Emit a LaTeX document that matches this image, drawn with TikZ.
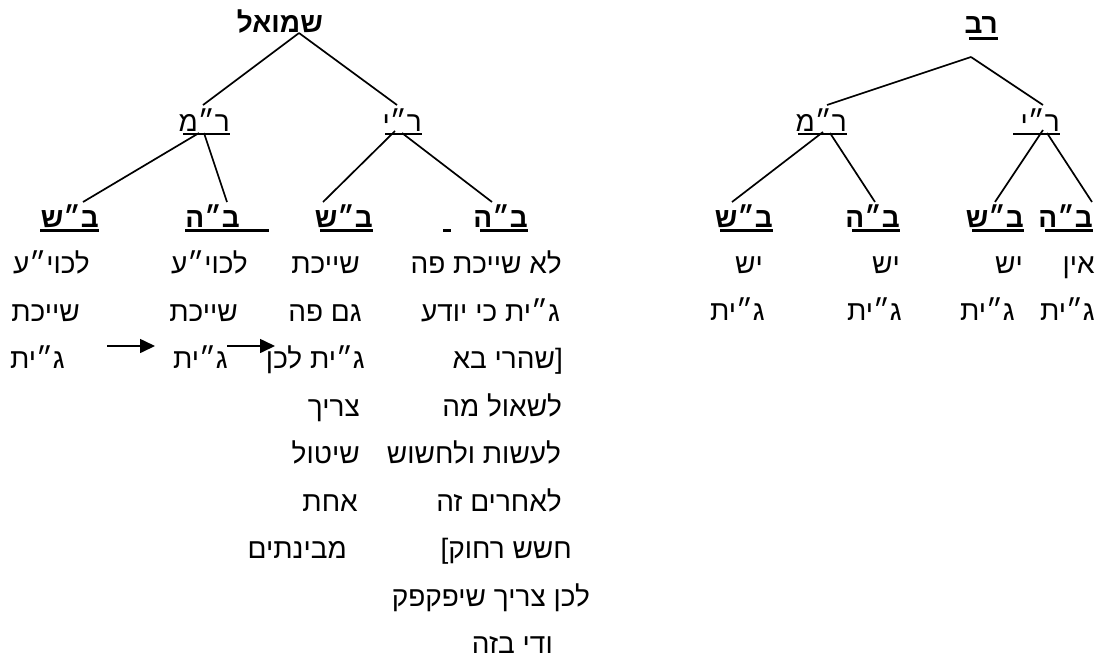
\documentclass[tikz,border=0pt]{standalone}
\usepackage{fontspec}
\newfontfamily\heb[Script=Hebrew]{Liberation Sans}
\TeXXeTstate=1
\usetikzlibrary{arrows.meta}
\newcommand\HT[1]{\beginR #1\endR}
\begin{document}
\begin{tikzpicture}[x=1pt,y=-1pt,
  txt/.style={font=\heb\fontsize{28}{32}\selectfont, inner sep=0pt, anchor=base east},
  lbl/.style={txt, font=\heb\bfseries\fontsize{28}{32}\selectfont},
  edge/.style={line width=1.7pt},
  ul/.style={line width=2pt},
  bul/.style={line width=3pt},
  arr/.style={line width=1.6pt, -{Triangle[length=15pt,width=14pt]}}]
\useasboundingbox (0,0) rectangle (1102,662);

% ===== Left tree (Shmuel) =====
\node[lbl] (shm) at (323,32) {\HT{שמואל}};
\node[txt] (Lrm) at (230,131) {\HT{ר״מ}};
\node[txt] (Lry) at (422,131) {\HT{ר״י}};
\draw[ul] (183,134) -- (230,134);
\draw[ul] (385,134) -- (422,134);

\node[lbl] (Lbs1) at (99,227) {\HT{ב״ש}};
\node[lbl] (Lbh1) at (240,227) {\HT{ב״ה}};
\node[lbl] (Lbs2) at (373,227) {\HT{ב״ש}};
\node[lbl] (Lbh2) at (528,227) {\HT{ב״ה}};
\draw[bul] (40,230) -- (99,230);
\draw[bul] (185,230) -- (269,230);
\draw[bul] (320,230) -- (373,230);
\draw[bul] (443,230) -- (451,230);
\draw[bul] (480,230) -- (528,230);

\coordinate (shmB) at (299,33);
\coordinate (LrmT) at (203,105);
\coordinate (LryT) at (397,105);
\coordinate (LrmB1) at (199,133);
\coordinate (LrmB2) at (204,133);
\coordinate (LryB1) at (395,131);
\coordinate (LryB2) at (402,133);
\coordinate (Lbs1T) at (83,202);
\coordinate (Lbh1T) at (227,202);
\coordinate (Lbs2T) at (323,202);
\coordinate (Lbh2T) at (492,202);
\draw[edge] (shmB) -- (LrmT);
\draw[edge] (shmB) -- (LryT);
\draw[edge] (LrmB1) -- (Lbs1T);
\draw[edge] (LrmB2) -- (Lbh1T);
\draw[edge] (LryB1) -- (Lbs2T);
\draw[edge] (LryB2) -- (Lbh2T);

% left column
\node[txt] (c1a) at (90,273) {\HT{לכוי״ע}};
\node[txt] (c1b) at (80,321) {\HT{שייכת}};
\node[txt] (c1c) at (65,368) {\HT{ג״ית}};
% middle column
\node[txt] (c2a) at (248,273) {\HT{לכוי״ע}};
\node[txt] (c2b) at (238,321) {\HT{שייכת}};
\node[txt] (c2c) at (228,368) {\HT{ג״ית}};
\coordinate (a1s) at (107,346);
\coordinate (a1e) at (155,346);
\coordinate (a2s) at (227,346);
\coordinate (a2e) at (275,346);
\draw[arr] (a1s) -- (a1e);
\draw[arr] (a2s) -- (a2e);
% Beit Shammai column
\node[txt] (c3a) at (360,273) {\HT{שייכת}};
\node[txt] (c3b) at (362,321) {\HT{גם פה}};
\node[txt] (c3c) at (365,368) {\HT{ג״ית לכן}};
\node[txt] (c3d) at (360,416) {\HT{צריך}};
\node[txt] (c3e) at (360,463) {\HT{שיטול}};
\node[txt] (c3f) at (358,511) {\HT{אחת}};
\node[txt] (c3g) at (347,558) {\HT{מבינתים}};
% Beit Hillel column
\node[txt] (c4a) at (562,273) {\HT{לא שייכת פה}};
\node[txt] (c4b) at (560,321) {\HT{ג״ית כי יודע}};
\node[txt] (c4c) at (563,368) {\HT{שהרי בא}{[}};
\node[txt] (c4d) at (562,416) {\HT{לשאול מה}};
\node[txt] (c4e) at (561,463) {\HT{לעשות ולחשוש}};
\node[txt] (c4f) at (562,511) {\HT{לאחרים זה}};
\node[txt] (c4g) at (572,558) {{]}\HT{חשש רחוק}};
\node[txt] (c4h) at (590,606) {\HT{לכן צריך שיפקפק}};
\node[txt] (c4i) at (553,653) {\HT{ודי בזה}};

% ===== Right tree (Rav) =====
\node[lbl] (rav) at (998,33) {\HT{רב}};
\draw[bul] (969,38) -- (998,38);
\node[txt] (Rrm) at (847,131) {\HT{ר״מ}};
\node[txt] (Rry) at (1060,131) {\HT{ר״י}};
\draw[ul] (798,134) -- (847,134);
\draw[ul] (1013,134) -- (1060,134);

\node[lbl] (Rbs1) at (773,227) {\HT{ב״ש}};
\node[lbl] (Rbh1) at (900,227) {\HT{ב״ה}};
\node[lbl] (Rbs2) at (1024,227) {\HT{ב״ש}};
\node[lbl] (Rbh2) at (1093,227) {\HT{ב״ה}};
\draw[bul] (720,230) -- (773,230);
\draw[bul] (852,230) -- (900,230);
\draw[bul] (972,230) -- (1024,230);
\draw[bul] (1045,230) -- (1093,230);

\coordinate (ravB) at (971,57);
\coordinate (RrmT) at (827,105);
\coordinate (RryT) at (1043,105);
\coordinate (RrmB1) at (823,132);
\coordinate (RrmB2) at (830,133);
\coordinate (RryB1) at (1043,130);
\coordinate (RryB2) at (1047,133);
\coordinate (Rbs1T) at (732,202);
\coordinate (Rbh1T) at (875,202);
\coordinate (Rbs2T) at (995,202);
\coordinate (Rbh2T) at (1092,202);
\draw[edge] (ravB) -- (RrmT);
\draw[edge] (ravB) -- (RryT);
\draw[edge] (RrmB1) -- (Rbs1T);
\draw[edge] (RrmB2) -- (Rbh1T);
\draw[edge] (RryB1) -- (Rbs2T);
\draw[edge] (RryB2) -- (Rbh2T);

\node[txt] (r1a) at (763,273) {\HT{יש}};
\node[txt] (r2a) at (900,273) {\HT{יש}};
\node[txt] (r3a) at (1023,273) {\HT{יש}};
\node[txt] (r4a) at (1095,273) {\HT{אין}};
\node[txt] (r1b) at (765,320) {\HT{ג״ית}};
\node[txt] (r2b) at (902,320) {\HT{ג״ית}};
\node[txt] (r3b) at (1015,320) {\HT{ג״ית}};
\node[txt] (r4b) at (1095,320) {\HT{ג״ית}};
\end{tikzpicture}
\end{document}
